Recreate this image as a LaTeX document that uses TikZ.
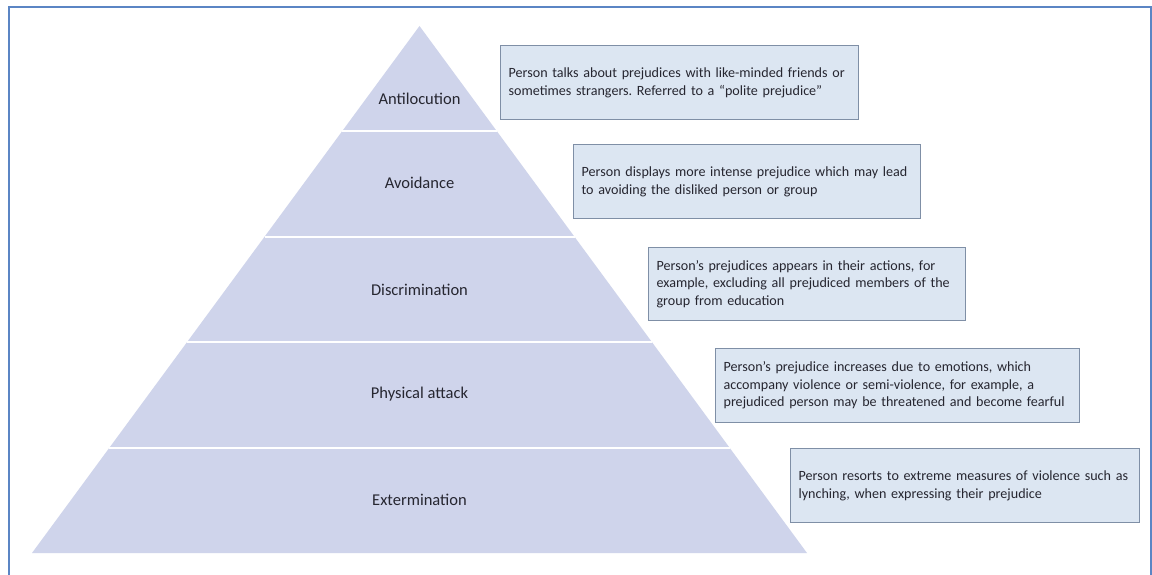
\documentclass[tikz,border=0pt]{standalone}
\usepackage{fontspec}
\setmainfont{Carlito}
\usetikzlibrary{calc}

\definecolor{framecol}{HTML}{5B85C4}
\definecolor{tiercol}{HTML}{CFD4EB}
\definecolor{notefill}{HTML}{DCE6F2}
\definecolor{notedraw}{HTML}{7F8FA6}
\definecolor{inkcol}{HTML}{262630}

\tikzset{
  tierlabel/.style={text=inkcol, font=\fontsize{16.5}{19}\selectfont},
  note/.style={rectangle, draw=notedraw, fill=notefill, line width=1.2pt, inner sep=8pt,
    anchor=north west, align=left, text=inkcol, font=\fontsize{14.1}{17.5}\selectfont}
}

\begin{document}
\frenchspacing
\begin{tikzpicture}[x=1pt, y=-1pt]
    \useasboundingbox (0,0) rectangle (1152,575);
    \fill[white] (0,0) rectangle (1152,575);
    \draw[framecol, line width=2pt] (9,590) -- (9,7) -- (1150.5,7) -- (1150.5,590);

    % pyramid
    \coordinate (apex) at (419.5,26);
    \coordinate (bl) at (32,553);
    \coordinate (br) at (807,553);
    \fill[tiercol] (apex) -- (bl) -- (br) -- cycle;
    \foreach \t in {0.2,0.4,0.6,0.8}
        \draw[white, line width=2pt] ($(apex)!\t!(bl)$) -- ($(apex)!\t!(br)$);

    \foreach \pos/\name/\txt in {{(419.5,99)/antilocution/Antilocution}, {(419.5,183)/avoidance/Avoidance},
        {(419.5,290)/discrimination/Discrimination}, {(419.5,394)/attack/Physical attack},
        {(419.5,500)/extermination/Extermination}}
        \node[tierlabel] (\name) at \pos {\txt};

    % notes
    \node[note, text width=342pt, minimum height=74pt] (antilocutionnote) at (500,45)
        {Person talks about prejudices with like-minded friends or\\sometimes strangers. Referred to a “polite prejudice”};
    \node[note, text width=331pt, minimum height=74pt] (avoidancenote) at (573,144)
        {Person displays more intense prejudice which may lead\\to avoiding the disliked person or group};
    \node[note, text width=301pt, minimum height=73pt] (discriminationnote) at (648,247)
        {Person’s prejudices appears in their actions, for\\example, excluding all prejudiced members of the\\group from education};
    \node[note, text width=348pt, minimum height=74pt] (attacknote) at (715,348)
        {Person’s prejudice increases due to emotions, which\\accompany violence or semi-violence, for example, a\\prejudiced person may be threatened and become fearful};
    \node[note, text width=333pt, minimum height=74pt] (exterminationnote) at (790,448)
        {Person resorts to extreme measures of violence such as\\lynching, when expressing their prejudice};
\end{tikzpicture}
\end{document}
